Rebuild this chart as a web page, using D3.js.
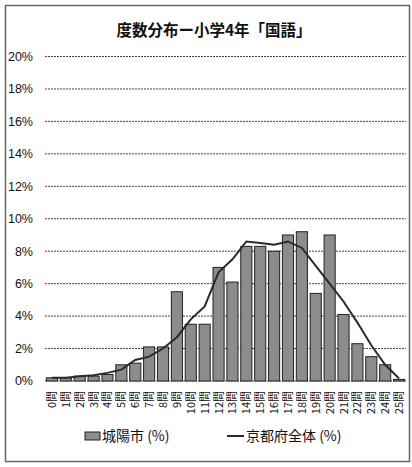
<!DOCTYPE html>
<html>
<head>
<meta charset="utf-8">
<script src="https://cdn.jsdelivr.net/npm/d3@7"></script>
<style>
  body { margin: 0; background: #fff; }
  text { font-family: "Liberation Sans Narrow", "Liberation Sans", "Noto Sans CJK JP", sans-serif; fill: #111; }
  .cjk { font-family: "Noto Sans CJK JP", sans-serif; }
</style>
</head>
<body>
<div id="chart"></div>
<script>
// categories (number of correct answers)
const categories = d3.range(0, 26).map(d => d + '問');
// 城陽市 (%)
const cityValues = [0.2, 0.2, 0.3, 0.3, 0.4, 1.0, 1.1, 2.1, 2.1, 5.5, 3.5, 3.5, 7.0, 6.1, 8.3, 8.3, 8.0, 9.0, 9.2, 5.4, 9.0, 4.1, 2.3, 1.5, 1.0, 0.1];
// 京都府全体 (%)
const prefValues = [0.2, 0.2, 0.3, 0.35, 0.5, 0.7, 1.3, 1.5, 2.0, 2.7, 3.8, 4.6, 6.7, 7.5, 8.6, 8.5, 8.4, 8.6, 8.2, 7.1, 6.0, 4.9, 3.6, 2.2, 1.0, 0.15];
const yTicks = [0, 2, 4, 6, 8, 10, 12, 14, 16, 18, 20];

const width = 412, height = 467;
const svg = d3.select('#chart').append('svg')
    .attr('width', width)
    .attr('height', height);

// outer frame
svg.append('rect')
    .attr('x', 5.5).attr('y', 5.5)
    .attr('width', 404).attr('height', 456)
    .attr('fill', 'none')
    .attr('stroke', '#666')
    .attr('stroke-width', 1.5);

// title
svg.append('text')
    .attr('class', 'cjk')
    .attr('x', 214).attr('y', 36)
    .attr('text-anchor', 'middle')
    .attr('font-size', 15.5)
    .attr('font-weight', 'bold')
    .text('度数分布ー小学4年「国語」');

const x = d3.scaleBand()
    .domain(categories)
    .range([45, 406])
    .paddingInner(0.2)
    .paddingOuter(0.1);

const y = d3.scaleLinear()
    .domain([0, 20])
    .range([381, 56.5]);

// gridlines
svg.append('g').selectAll('line')
    .data(yTicks)
  .join('line')
    .attr('x1', 45).attr('x2', 406)
    .attr('y1', d => y(d)).attr('y2', d => y(d))
    .attr('stroke', '#444')
    .attr('stroke-width', 1)
    .attr('stroke-dasharray', '2,1');

// y axis labels
svg.append('g').selectAll('text')
    .data(yTicks)
  .join('text')
    .attr('x', 33)
    .attr('y', d => y(d))
    .attr('dy', '0.35em')
    .attr('text-anchor', 'end')
    .attr('font-size', 12.5)
    .text(d => d + '%');

// bars
svg.append('g').selectAll('rect')
    .data(cityValues)
  .join('rect')
    .attr('x', (d, i) => x(categories[i]))
    .attr('y', d => y(d))
    .attr('width', x.bandwidth())
    .attr('height', d => y(0) - y(d))
    .attr('fill', '#8c8c8c')
    .attr('stroke', '#222')
    .attr('stroke-width', 1);

// prefecture line
const line = d3.line()
    .x((d, i) => x(categories[i]) + x.bandwidth() / 2)
    .y(d => y(d));

svg.append('path')
    .datum(prefValues)
    .attr('d', line)
    .attr('fill', 'none')
    .attr('stroke', '#2a2a2a')
    .attr('stroke-width', 2);

// x labels, rotated
svg.append('g').selectAll('text')
    .data(categories)
  .join('text')
    .attr('class', 'cjk')
    .attr('transform', d => `translate(${x(d) + x.bandwidth() / 2 + 4},391) rotate(-90)`)
    .attr('text-anchor', 'end')
    .attr('font-size', 11)
    .text(d => d);

// legend
const legend = svg.append('g');
legend.append('rect')
    .attr('x', 85).attr('y', 432)
    .attr('width', 15).attr('height', 8)
    .attr('fill', '#8c8c8c')
    .attr('stroke', '#222');
legend.append('text')
    .attr('class', 'cjk')
    .attr('x', 102).attr('y', 441)
    .attr('font-size', 14)
    .text('城陽市 (%)');
legend.append('line')
    .attr('x1', 227).attr('x2', 244)
    .attr('y1', 436).attr('y2', 436)
    .attr('stroke', '#2a2a2a')
    .attr('stroke-width', 2);
legend.append('text')
    .attr('class', 'cjk')
    .attr('x', 246).attr('y', 441)
    .attr('font-size', 14)
    .text('京都府全体 (%)');
</script>
</body>
</html>
